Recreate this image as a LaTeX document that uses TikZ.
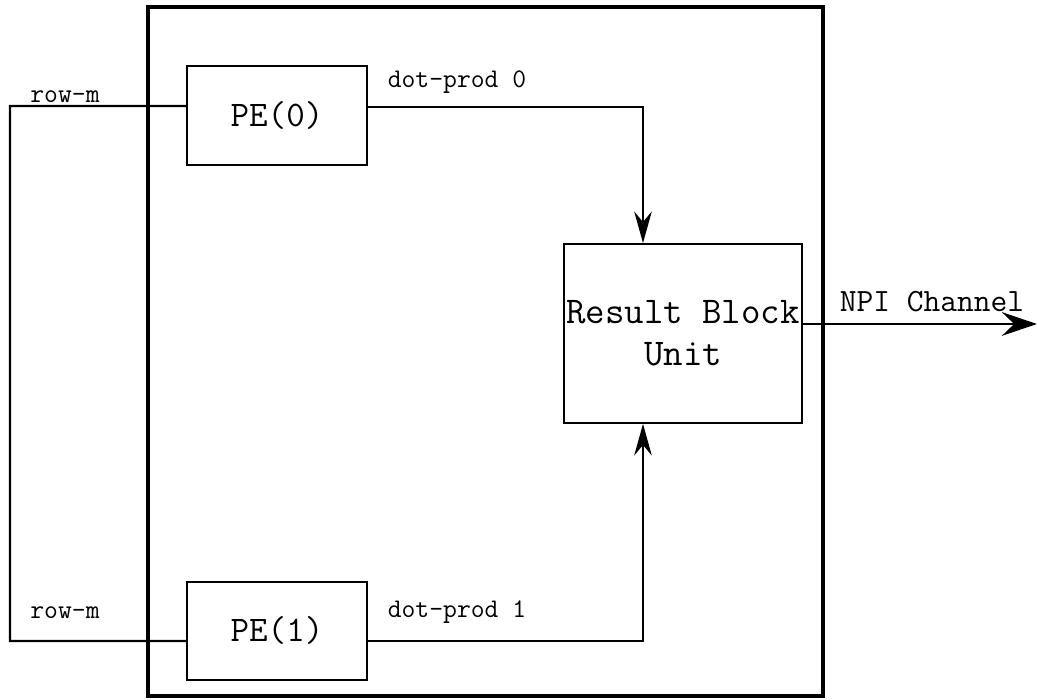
\documentclass[tikz,border=0pt]{standalone}
\usepackage{fontspec}
\usetikzlibrary{positioning, arrows.meta, calc}

\begin{document}
\begin{tikzpicture}[
		myline/.style={draw=black, line width=1.2pt},
		box/.style={myline, font=\ttfamily\fontsize{20.5}{23}\selectfont, align=center, inner sep=0pt},
		lbl/.style={font=\ttfamily\fontsize{15.3}{18}\selectfont, inner sep=0pt},
		>={Stealth[length=18pt, width=10pt, inset=6pt]}]
		
		\useasboundingbox (0,0) rectangle (20.74,14);
		
		\node[draw, line width=2.2pt, minimum width=13.5cm, minimum height=13.78cm] at (9.71,6.97) (core) {};
		
		\node[box, minimum width=3.6cm, minimum height=1.98cm] at (5.54,11.69) (pe0) {PE(0)};
		\node[box, minimum width=3.6cm, minimum height=1.96cm] at (5.54,1.38)  (pe1) {PE(1)};
		\node[box, line width=1pt, font=\ttfamily\fontsize{21.5}{23}\selectfont, minimum width=4.76cm, minimum height=3.58cm] at (13.66,7.33) (rbu) {Result Block\\[1pt]Unit};
		
		\coordinate (rowtop) at (0.2,11.88);
		\coordinate (rowbot) at (0.2,1.18);
		\coordinate (npi) at (20.74,7.52);
		
		\node[lbl] at (1.3,12.06) (lrow0) {row-m};
		\node[lbl] at (1.3,1.74)  (lrow1) {row-m};
		\node[lbl] at (9.14,12.36) (ldot0) {dot-prod 0};
		\node[lbl] at (9.14,1.76)  (ldot1) {dot-prod 1};
		\node[lbl, font=\ttfamily\fontsize{18.5}{20}\selectfont] at (18.64,7.96) (lnpi) {NPI Channel};
		
		\draw[myline]  ([yshift=0.19cm]pe0.west) -- (rowtop) -- (rowbot) -- ([yshift=-0.2cm]pe1.west);
		
		\draw[myline, ->]  ([yshift=0.17cm]pe0.east) -| ([xshift=-0.8cm]rbu.north);
		\draw[myline, ->]  ([yshift=-0.2cm]pe1.east) -| ([xshift=-0.8cm]rbu.south);
		
		\draw[myline, -{Stealth[length=20pt, width=13.5pt, inset=7pt]}]  (rbu.east |- npi) -- (npi);
	\end{tikzpicture}
\end{document}
